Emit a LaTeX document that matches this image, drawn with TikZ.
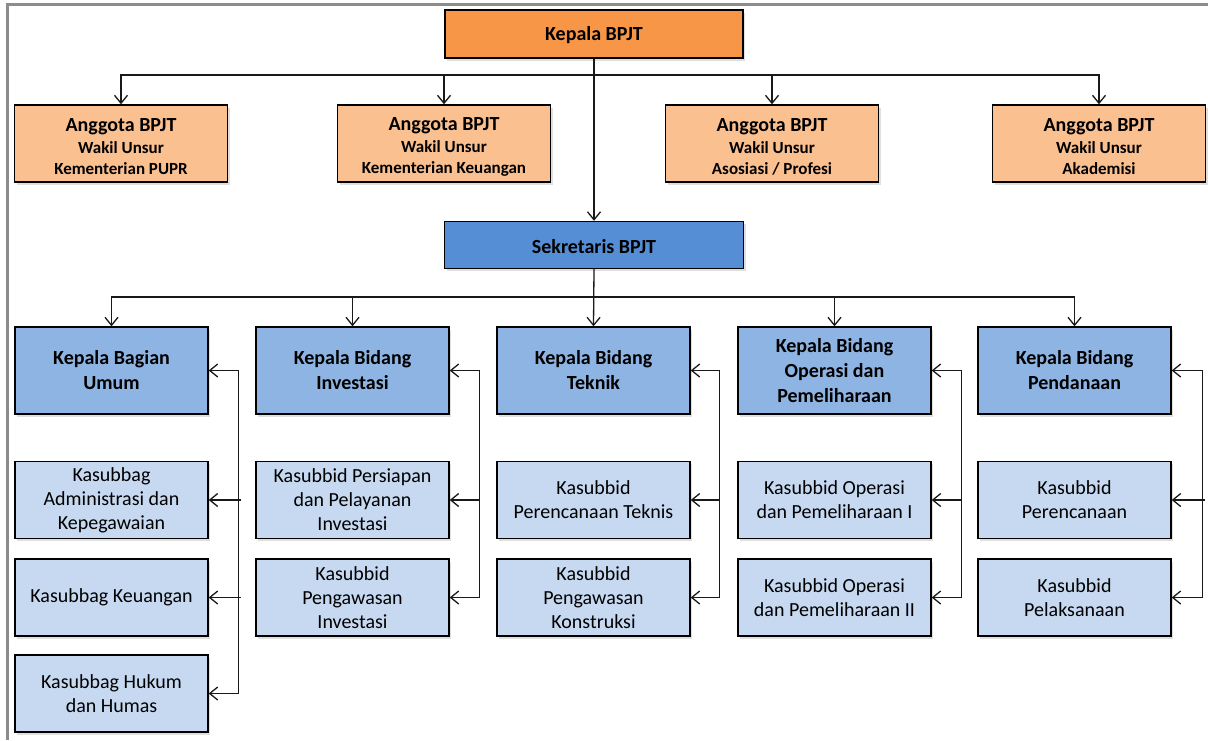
\documentclass[tikz,border=0pt]{standalone}
\usepackage{fontspec}
\setmainfont{Carlito}
\usepackage{xcolor}
\usetikzlibrary{arrows.meta,shadows,positioning}

\definecolor{kepalaorange}{HTML}{F79646}
\definecolor{anggotaorange}{HTML}{FAC090}
\definecolor{sekreblue}{HTML}{558ED5}
\definecolor{bidangblue}{HTML}{8EB4E3}
\definecolor{subblue}{HTML}{C6D9F1}
\definecolor{framegray}{HTML}{8C8C8C}

\newcommand{\headfont}{\fontsize{20}{25}\selectfont}
\newcommand{\wakilfont}{\fontsize{17}{21.5}\selectfont}
\newcommand{\kasfont}{\fontsize{20}{24}\selectfont}

\begin{document}
\begin{tikzpicture}[x=1pt, y=-1pt,
    box/.style={draw, line width=1.4pt, align=center, inner sep=0pt,
      drop shadow={opacity=0.25, shadow xshift=2pt, shadow yshift=-2.5pt}},
    kepala/.style={box, fill=kepalaorange, minimum width=298pt, minimum height=48pt, font=\headfont\bfseries},
    anggota/.style={box, fill=anggotaorange, minimum width=213pt, minimum height=77pt, font=\wakilfont\bfseries},
    sekre/.style={box, fill=sekreblue, minimum width=299pt, minimum height=47pt, font=\headfont\bfseries},
    bidang/.style={box, fill=bidangblue, minimum width=193pt, minimum height=87pt, font=\headfont\bfseries},
    kasub/.style={box, fill=subblue, minimum width=193pt, minimum height=77pt, font=\kasfont},
    arr/.style={-{Straight Barb[length=8pt,width=13pt]}, line width=1.3pt, black!90},
    arrtwo/.style={{Straight Barb[length=8pt,width=13pt]}-{Straight Barb[length=8pt,width=13pt]}, line width=1.3pt, black!90}]

\useasboundingbox (0,0) rectangle (1208,740);

	% frame
\draw [framegray, line width=3pt] (7,740) -- (7,4) -- (1208,4);

	% kepala
\node [kepala] (kepala) at (594,34) {\rule{0pt}{17pt}Kepala BPJT};

	% anggota
\node [anggota] (ang1) at (121,143.5) {{\headfont\rule{0pt}{20pt}Anggota BPJT}\\Wakil Unsur\\Kementerian PUPR};
\node [anggota] (ang2) at (444,143.5) {{\headfont\rule{0pt}{20pt}Anggota BPJT}\\Wakil Unsur\\Kementerian Keuangan};
\node [anggota] (ang3) at (772,143.5) {{\headfont\rule{0pt}{20pt}Anggota BPJT}\\Wakil Unsur\\Asosiasi / Profesi};
\node [anggota] (ang4) at (1099,143.5) {{\headfont\rule{0pt}{20pt}Anggota BPJT}\\Wakil Unsur\\Akademisi};

	% sekretaris
\node [sekre] (sekre) at (594,245) {\rule{0pt}{17pt}Sekretaris BPJT};

	% bidang
\node [bidang] (bid1) at (111.5,370.5) {Kepala Bagian\\Umum};
\node [bidang] (bid2) at (352.5,370.5) {Kepala Bidang\\Investasi};
\node [bidang] (bid3) at (593.5,370.5) {Kepala Bidang\\Teknik};
\node [bidang] (bid4) at (834.5,370.5) {Kepala Bidang\\Operasi dan\\Pemeliharaan};
\node [bidang] (bid5) at (1074.5,370.5) {Kepala Bidang\\Pendanaan};

	% kasubbag / kasubbid
\node [kasub] (sub11) at (111.5,500) {Kasubbag\\Administrasi dan\\Kepegawaian};
\node [kasub] (sub12) at (111.5,597.5) {Kasubbag Keuangan};
\node [kasub] (sub13) at (111.5,693.5) {Kasubbag Hukum\\dan Humas};
\node [kasub] (sub21) at (352.5,500) {Kasubbid Persiapan\\dan Pelayanan\\Investasi};
\node [kasub] (sub22) at (352.5,597.5) {Kasubbid\\Pengawasan\\Investasi};
\node [kasub] (sub31) at (593.5,500) {Kasubbid\\Perencanaan Teknis};
\node [kasub] (sub32) at (593.5,597.5) {Kasubbid\\Pengawasan\\Konstruksi};
\node [kasub] (sub41) at (834.5,500) {Kasubbid Operasi\\dan Pemeliharaan I};
\node [kasub] (sub42) at (834.5,597.5) {Kasubbid Operasi\\dan Pemeliharaan II};
\node [kasub] (sub51) at (1074.5,500) {Kasubbid\\Perencanaan};
\node [kasub] (sub52) at (1074.5,597.5) {Kasubbid\\Pelaksanaan};

	% kepala to anggota
\coordinate (kbus) at (594,75);
\draw [arr] (kepala.south) -- (sekre.north);
\draw [arr] (kbus) -| (ang1.north);
\draw [arr] (kbus) -| (ang2.north);
\draw [arr] (kbus) -| (ang3.north);
\draw [arr] (kbus) -| (ang4.north);

	% sekretaris to bidang
\coordinate (sbus) at (594,297);
\draw [arr] (sekre.south) -- (bid3.north);
\draw [arr] (sbus) -| (bid1.north);
\draw [arr] (sbus) -| (bid2.north);
\draw [arr] (sbus) -| (bid4.north);
\draw [arr] (sbus) -| (bid5.north);

	% bidang to kasub
\draw [arrtwo] (bid1.east) -- ++(30,0) |- (sub13.east);
\draw [arr] (sub11.east) ++(32,0) -- (sub11.east);
\draw [arr] (sub12.east) ++(32,0) -- (sub12.east);
\draw [arrtwo] (bid2.east) -- ++(30,0) |- (sub22.east);
\draw [arr] (sub21.east) ++(30,0) -- (sub21.east);
\draw [arrtwo] (bid3.east) -- ++(29,0) |- (sub32.east);
\draw [arr] (sub31.east) ++(29,0) -- (sub31.east);
\draw [arrtwo] (bid4.east) -- ++(30,0) |- (sub42.east);
\draw [arr] (sub41.east) ++(30,0) -- (sub41.east);
\draw [arrtwo] (bid5.east) -- ++(31,0) |- (sub52.east);
\draw [arr] (sub51.east) ++(33,0) -- (sub51.east);

\end{tikzpicture}
\end{document}
